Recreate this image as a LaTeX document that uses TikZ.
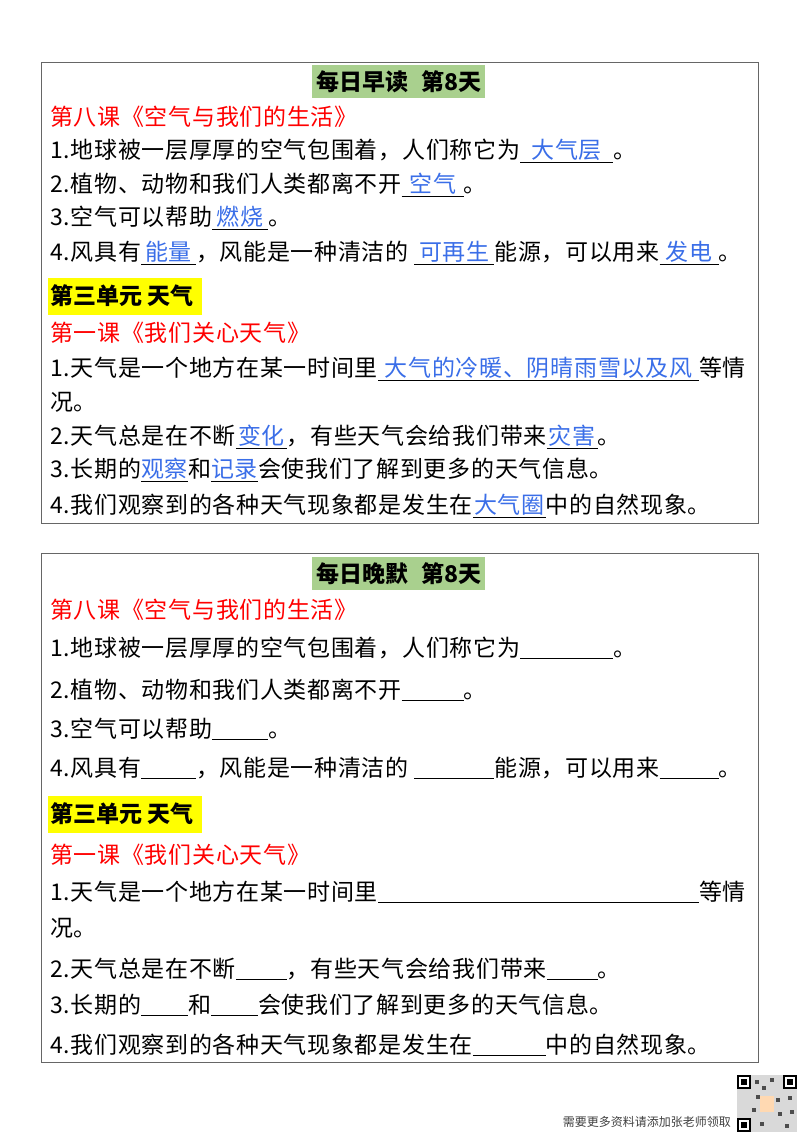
\documentclass[tikz,border=0pt]{standalone}
\usepackage{fontspec}
\setmainfont{Noto Sans CJK SC}
\definecolor{tgreen}{HTML}{A9D08E}
\definecolor{tyellow}{HTML}{FFFF00}
\definecolor{tblue}{HTML}{3A6EE8}
\definecolor{tred}{HTML}{FF0000}
\newcommand{\blank}[2]{\underline{\makebox[#1pt][c]{\color{tblue}#2}}}
\begin{document}
\begin{tikzpicture}[x=1pt,y=-1pt,
  ln/.style={anchor=west,inner sep=0pt,font=\fontsize{23}{23}\selectfont\addfontfeature{LetterSpace=3}},
  rd/.style={ln,text=tred},
  hd/.style={anchor=west,inner sep=0pt,font=\fontsize{23}{23}\selectfont\bfseries},
  ttl/.style={inner sep=0pt,font=\fontsize{23}{23}\selectfont\bfseries},
  frame/.style={draw=black!60,line width=0.8pt}]
\useasboundingbox (0,0) rectangle (800,1132);
\fill[white] (0,0) rectangle (800,1132);
% ---- Box 1
\draw[frame] (41,62) rectangle (758,523);
\fill[tgreen] (312,65) rectangle (485,98);
\node[ttl] (t1) at (399,82) {每日早读\hspace{0.6em}第8天};
\node[rd] (a1) at (50,117) {第八课《空气与我们的生活》};
\node[ln] (a2) at (50,151) {1.地球被一层厚厚的空气包围着，人们称它为\blank{93}{大气层}。};
\node[ln] (a3) at (50,185) {2.植物、动物和我们人类都离不开\blank{62}{空气}。};
\node[ln] (a4) at (50,218) {3.空气可以帮助\blank{56}{燃烧}。};
\node[ln] (a5) at (50,253) {4.风具有\blank{55}{能量}，风能是一种清洁的 \blank{80}{可再生}能源，可以用来\blank{59}{发电}。};
\fill[tyellow] (48,278) rectangle (202,315);
\node[hd] (a6) at (50,296) {第三单元 天气};
\node[rd] (a7) at (50,333) {第一课《我们关心天气》};
\node[ln] (a8) at (50,369) {1.天气是一个地方在某一时间里\blank{321}{大气的冷暖、阴晴雨雪以及风}等情};
\node[ln] (a9) at (50,402) {况。};
\node[ln] (a10) at (50,437) {2.天气总是在不断\blank{51}{变化}，有些天气会给我们带来\blank{51}{灾害}。};
\node[ln] (a11) at (50,470) {3.长期的\blank{47}{观察}和\blank{47}{记录}会使我们了解到更多的天气信息。};
\node[ln] (a12) at (50,506) {4.我们观察到的各种天气现象都是发生在\blank{73}{大气圈}中的自然现象。};
% ---- Box 2
\draw[frame] (41,553) rectangle (758,1062);
\fill[tgreen] (312,557) rectangle (485,590);
\node[ttl] (t2) at (399,574) {每日晚默\hspace{0.6em}第8天};
\node[rd] (b1) at (50,610) {第八课《空气与我们的生活》};
\node[ln] (b2) at (50,648) {1.地球被一层厚厚的空气包围着，人们称它为\blank{93}{}。};
\node[ln] (b3) at (50,690) {2.植物、动物和我们人类都离不开\blank{62}{}。};
\node[ln] (b4) at (50,729) {3.空气可以帮助\blank{56}{}。};
\node[ln] (b5) at (50,768) {4.风具有\blank{55}{}，风能是一种清洁的 \blank{80}{}能源，可以用来\blank{59}{}。};
\fill[tyellow] (48,796) rectangle (202,833);
\node[hd] (b6) at (50,814) {第三单元 天气};
\node[rd] (b7) at (50,855) {第一课《我们关心天气》};
\node[ln] (b8) at (50,892) {1.天气是一个地方在某一时间里\blank{321}{}等情};
\node[ln] (b9) at (50,928) {况。};
\node[ln] (b10) at (50,969) {2.天气总是在不断\blank{51}{}，有些天气会给我们带来\blank{51}{}。};
\node[ln] (b11) at (50,1005) {3.长期的\blank{47}{}和\blank{47}{}会使我们了解到更多的天气信息。};
\node[ln] (b12) at (50,1045) {4.我们观察到的各种天气现象都是发生在\blank{73}{}中的自然现象。};
% ---- footer
\node[anchor=east,inner sep=0pt,font=\fontsize{12}{12}\selectfont,text=black!75] (ft) at (731,1122) {需要更多资料请添加张老师领取};
\fill[black!15] (737,1075) rectangle (797,1132);
\foreach \x/\y in {737/1075,783/1075,737/1118}{
  \fill[black] (\x,\y) rectangle ++(14,14);
  \fill[white] (\x+2,\y+2) rectangle ++(10,10);
  \fill[black] (\x+4,\y+4) rectangle ++(6,6);}
\foreach \x/\y in {755/1080,762/1086,770/1078,756/1095,776/1098,788/1096,752/1108,778/1112,790/1110,760/1122,785/1124}{
  \fill[black!70] (\x,\y) rectangle ++(4,4);}
\fill[orange!30] (760,1096) rectangle (774,1112);
\end{tikzpicture}
\end{document}
